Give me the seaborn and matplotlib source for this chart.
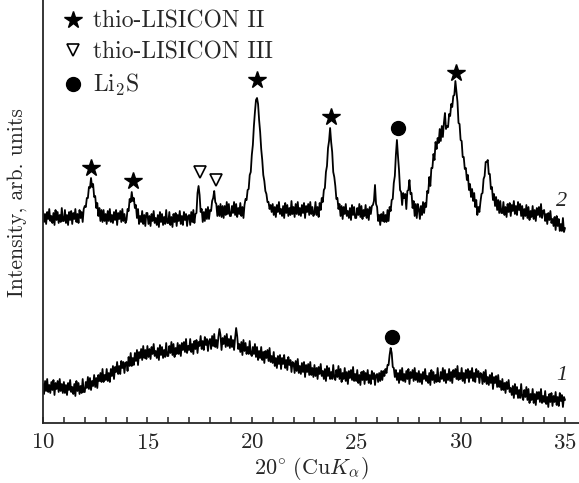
import numpy as np
import pandas as pd
import matplotlib
matplotlib.use("Agg")
import matplotlib.pyplot as plt
from matplotlib.lines import Line2D
from matplotlib.ticker import MultipleLocator
import seaborn as sns

# 2theta grid, 0.05 deg step
two_theta = np.round(np.arange(10.0, 35.0001, 0.05), 2)

# curve 2 (upper), intensity, one row per degree
curve2 = [
    212, 201, 209, 199, 211, 204, 214, 202, 207, 200, 210, 198, 213, 203, 211, 200, 208, 201, 215, 202,
    202, 213, 200, 208, 198, 211, 203, 212, 199, 210, 204, 214, 201, 209, 200, 213, 205, 211, 201, 214,
    217, 216, 225, 225, 236, 235, 245, 236, 239, 226, 227, 215, 220, 207, 215, 202, 213, 201, 213, 202,
    209, 199, 212, 202, 214, 201, 208, 200, 211, 203, 213, 198, 210, 204, 212, 201, 214, 202, 209, 200,
    203, 214, 212, 224, 221, 231, 222, 225, 215, 218, 205, 214, 199, 207, 201, 212, 199, 208, 197, 210,
    210, 199, 207, 197, 209, 202, 212, 200, 205, 198, 208, 196, 211, 201, 209, 198, 206, 199, 213, 200,
    200, 211, 198, 206, 196, 209, 201, 210, 197, 208, 202, 212, 199, 207, 198, 211, 203, 209, 197, 207,
    208, 198, 211, 201, 213, 200, 209, 210, 230, 237, 228, 211, 214, 201, 211, 202, 214, 204, 216, 204,
    213, 212, 222, 225, 232, 221, 219, 207, 217, 207, 219, 206, 217, 205, 217, 208, 221, 209, 219, 207,
    207, 217, 210, 221, 208, 219, 206, 215, 209, 220, 207, 216, 205, 218, 224, 223, 233, 234, 248, 251,
    268, 278, 297, 311, 323, 325, 319, 303, 291, 274, 263, 248, 242, 232, 229, 221, 221, 214, 218, 211,
    219, 208, 216, 206, 218, 211, 221, 209, 214, 207, 217, 205, 220, 210, 218, 207, 215, 208, 222, 209,
    216, 206, 219, 209, 221, 208, 215, 207, 218, 210, 220, 205, 217, 211, 219, 208, 221, 209, 216, 207,
    210, 221, 208, 216, 206, 220, 213, 225, 221, 233, 235, 251, 257, 275, 282, 295, 281, 271, 251, 246,
    237, 224, 225, 214, 219, 207, 217, 204, 216, 209, 219, 207, 212, 205, 215, 203, 218, 208, 216, 205,
    205, 215, 208, 219, 206, 217, 204, 213, 207, 218, 205, 214, 203, 216, 209, 217, 218, 222, 238, 219,
    216, 202, 208, 198, 209, 202, 211, 201, 208, 201, 213, 202, 216, 212, 223, 224, 240, 247, 268, 283,
    267, 253, 233, 231, 218, 230, 225, 229, 214, 232, 233, 243, 229, 230, 215, 222, 207, 219, 205, 219,
    214, 204, 217, 208, 221, 210, 220, 216, 232, 230, 246, 237, 255, 255, 269, 263, 281, 274, 285, 280,
    294, 282, 297, 286, 300, 310, 294, 297, 296, 309, 307, 319, 316, 327, 328, 342, 331, 321, 300, 299,
    283, 282, 266, 266, 254, 255, 243, 248, 233, 239, 226, 234, 222, 230, 216, 223, 208, 216, 211, 221,
    229, 230, 244, 247, 261, 261, 263, 249, 249, 234, 236, 223, 229, 217, 226, 213, 223, 210, 222, 210,
    210, 221, 208, 216, 206, 219, 211, 220, 207, 218, 212, 222, 209, 217, 208, 221, 213, 219, 207, 217,
    204, 214, 207, 218, 205, 216, 203, 212, 206, 217, 204, 213, 202, 215, 208, 216, 206, 219, 205, 212,
    213, 202, 209, 199, 210, 203, 212, 200, 204, 197, 206, 193, 207, 197, 204, 192, 199, 192, 205, 191,
    195,
]

# curve 1 (lower, amorphous hump)
curve1 = [
    39, 29, 42, 32, 44, 31, 38, 30, 41, 33, 43, 28, 40, 34, 42, 31, 44, 32, 39, 30,
    41, 30, 38, 28, 40, 33, 43, 31, 36, 29, 39, 27, 42, 32, 40, 29, 37, 30, 44, 31,
    31, 41, 35, 46, 34, 45, 33, 42, 37, 48, 36, 45, 35, 48, 42, 50, 41, 54, 41, 48,
    43, 54, 42, 50, 41, 54, 47, 57, 44, 56, 51, 61, 49, 57, 49, 62, 55, 61, 50, 60,
    61, 52, 66, 57, 70, 57, 65, 58, 70, 62, 73, 58, 71, 65, 74, 63, 77, 65, 73, 64,
    77, 66, 74, 64, 76, 69, 79, 67, 72, 65, 75, 63, 78, 68, 76, 65, 73, 66, 80, 67,
    67, 77, 70, 81, 68, 79, 66, 75, 69, 80, 69, 78, 67, 80, 73, 81, 71, 84, 70, 77,
    73, 84, 71, 79, 69, 82, 74, 83, 70, 81, 77, 87, 74, 82, 73, 86, 78, 84, 72, 82,
    84, 74, 87, 77, 89, 76, 83, 75, 86, 94, 88, 73, 85, 79, 87, 76, 89, 77, 84, 75,
    87, 76, 83, 73, 85, 95, 87, 74, 79, 71, 81, 68, 83, 72, 80, 69, 76, 69, 82, 69,
    67, 76, 69, 79, 66, 76, 63, 72, 65, 76, 63, 71, 60, 72, 65, 73, 62, 75, 61, 67,
    60, 71, 57, 65, 55, 67, 59, 68, 54, 65, 59, 68, 55, 63, 53, 66, 58, 63, 51, 61,
    60, 50, 62, 52, 64, 50, 57, 49, 60, 51, 61, 46, 58, 51, 59, 48, 61, 48, 55, 46,
    58, 47, 55, 44, 56, 49, 59, 47, 52, 44, 54, 42, 57, 47, 55, 44, 51, 44, 58, 45,
    43, 53, 46, 57, 44, 54, 41, 50, 44, 55, 42, 51, 39, 52, 45, 53, 43, 56, 42, 49,
    42, 53, 40, 48, 38, 51, 43, 52, 39, 50, 43, 53, 40, 48, 39, 52, 44, 50, 38, 48,
    49, 41, 50, 42, 52, 43, 52, 47, 54, 50, 58, 58, 68, 75, 70, 56, 55, 46, 53, 43,
    50, 40, 53, 43, 55, 42, 49, 41, 52, 44, 54, 39, 51, 45, 53, 42, 55, 43, 50, 41,
    52, 41, 49, 39, 51, 44, 54, 42, 47, 40, 50, 38, 53, 43, 51, 40, 48, 41, 55, 42,
    41, 51, 44, 55, 42, 53, 40, 49, 43, 54, 42, 51, 40, 53, 46, 54, 44, 57, 43, 50,
    44, 55, 42, 50, 40, 53, 45, 54, 41, 52, 45, 55, 42, 50, 41, 54, 46, 52, 40, 50,
    49, 39, 51, 41, 53, 39, 46, 38, 48, 40, 50, 34, 46, 40, 47, 36, 48, 36, 42, 33,
    44, 33, 40, 30, 41, 34, 43, 31, 35, 28, 37, 25, 39, 29, 36, 25, 33, 25, 39, 26,
    23, 33, 26, 36, 23, 34, 20, 29, 23, 34, 20, 29, 18, 31, 24, 31, 21, 34, 20, 27,
    21, 32, 19, 26, 16, 29, 21, 30, 17, 27, 21, 31, 18, 26, 17, 30, 22, 28, 16, 26,
    23,
]

# phase markers above peaks
star_x = [12.3, 14.3, 20.25, 23.8, 29.8]
star_y = [255, 242, 343, 306, 350]
tri_x = [17.5, 18.3]
tri_y = [251, 243]
circ_x = [27.0, 26.7]
circ_y = [295, 86]

curve_labels = ["2", "1"]
curve_label_x = [34.83, 34.83]
curve_label_y = [221, 48]

legend_labels = ["thio-LISICON II", "thio-LISICON III", r"Li$_2$S"]

assert len(curve1) == len(two_theta) and len(curve2) == len(two_theta)

df = pd.DataFrame({"two_theta": np.concatenate([two_theta, two_theta]),
                   "intensity": curve2 + curve1,
                   "sample": ["2"] * len(two_theta) + ["1"] * len(two_theta)})

sns.set_style("ticks")
plt.rcParams["font.family"] = ["cmr10", "DejaVu Serif"]
plt.rcParams["mathtext.fontset"] = "cm"
plt.rcParams["axes.formatter.use_mathtext"] = True
plt.rcParams["axes.unicode_minus"] = False

fig = plt.figure(figsize=(5.79, 4.83), dpi=100)
ax = fig.add_axes([43 / 579, 60 / 483, 1 - 43 / 579, 423 / 483])

sns.lineplot(data=df, x="two_theta", y="intensity", units="sample", estimator=None,
             color="black", lw=1.3, ax=ax, legend=False)

ax.plot(star_x, star_y, ls="none", marker="*", ms=13, color="black")
ax.plot(tri_x, tri_y, ls="none", marker="v", ms=9, mfc="white", mec="black", mew=1.2)
ax.plot(circ_x, circ_y, ls="none", marker="o", ms=10, color="black")

for lab, lx, ly in zip(curve_labels, curve_label_x, curve_label_y):
    ax.text(lx, ly, lab, fontsize=16, style="italic", family="Liberation Serif",
            ha="center", va="center")

ax.set_xlim(10, 35.67)
ax.set_ylim(0, 423)
ax.xaxis.set_major_locator(MultipleLocator(5))
ax.xaxis.set_minor_locator(MultipleLocator(1))
ax.tick_params(axis="x", which="both", direction="in", length=4, width=1.1, labelsize=16.5, pad=7)
ax.set_yticks([])
sns.despine(ax=ax)
for s in ["left", "bottom"]:
    ax.spines[s].set_linewidth(1.3)

ax.set_xlabel(r"$20^{\circ}\ (\mathrm{Cu}K_\alpha)$", fontsize=16, labelpad=2)
ax.set_ylabel("Intensity, arb. units", fontsize=15.5)
ax.yaxis.set_label_coords(-0.03, 0.522)

handles = [
    Line2D([], [], ls="none", marker="*", ms=13, color="black"),
    Line2D([], [], ls="none", marker="v", ms=9, mfc="white", mec="black", mew=1.2),
    Line2D([], [], ls="none", marker="o", ms=10, color="black"),
]
ax.legend(handles, legend_labels, loc="upper left", frameon=False, fontsize=17,
          handlelength=0.8, handletextpad=0.45, labelspacing=0.36,
          borderaxespad=0.0, bbox_to_anchor=(0.02, 0.997))

fig.savefig("out.png", dpi=100)
